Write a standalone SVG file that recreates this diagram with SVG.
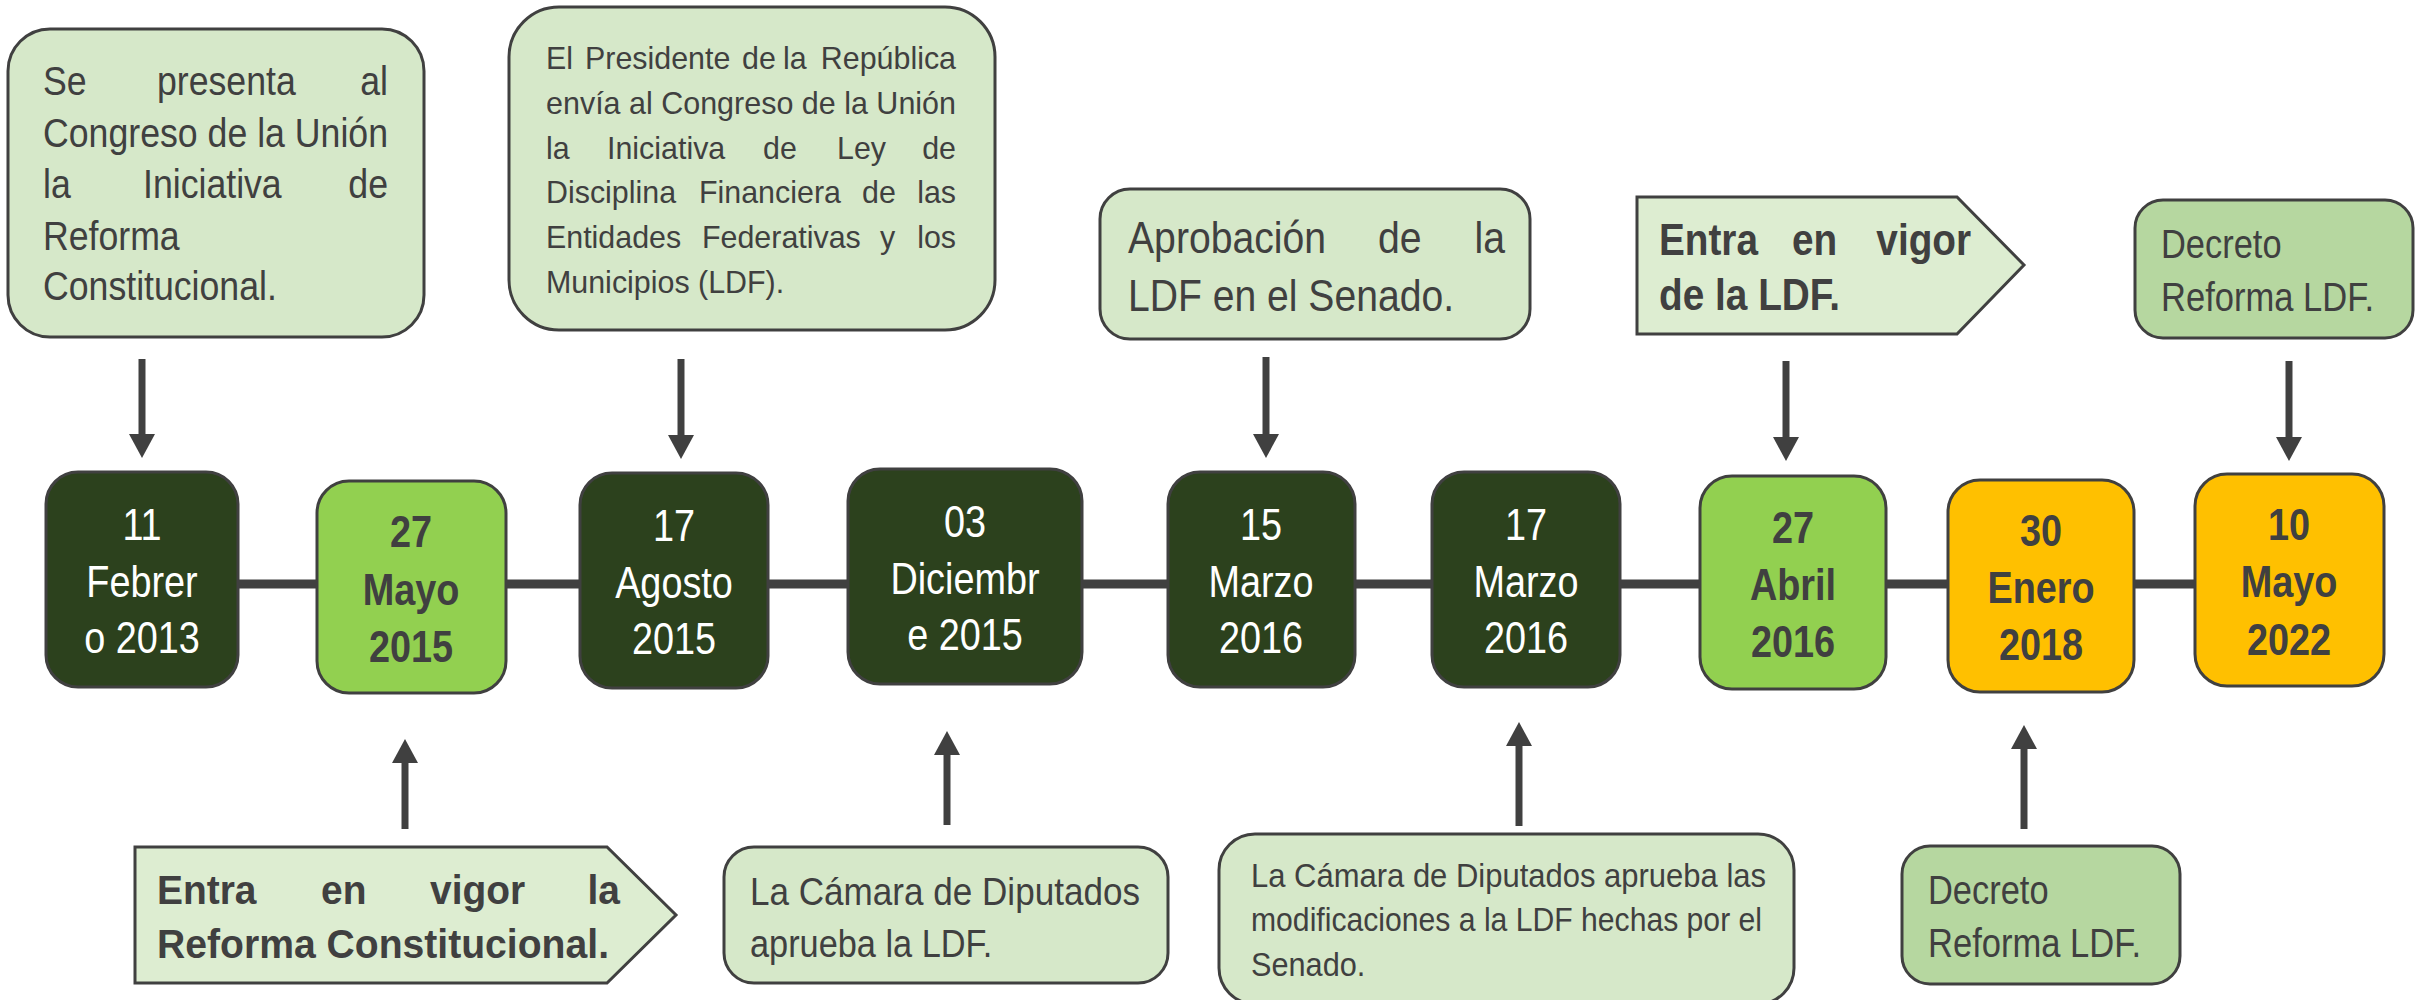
<svg xmlns="http://www.w3.org/2000/svg" width="2425" height="1000" viewBox="0 0 2425 1000">
<style>
text{font-family:"Liberation Sans",Arial,sans-serif;fill:#404040}
.bx{stroke:#404040;stroke-width:3}
.lt{fill:#D6E8C9}
.pt{fill:#DDEDD1}
.dc{fill:#B6D7A0}
.dk{fill:#2C411D}
.lg{fill:#92D050}
.yl{fill:#FFC000}
.w{fill:#FFFFFF}
.b{font-weight:bold}
.d text{font-size:44px;text-anchor:middle}
.e{text-anchor:end}
.conn line{stroke:#404040;stroke-width:7}
</style>
<defs>
<marker id="ah" markerUnits="userSpaceOnUse" markerWidth="26" markerHeight="26" refX="1" refY="13" orient="auto">
<path d="M0,0 L24,13 L0,26 Z" fill="#404040"/>
</marker>
</defs>

<g id="connectors" class="conn">
<line x1="238" y1="584" x2="2195" y2="584" style="stroke-width:9"/>
<line x1="142" y1="359" x2="142" y2="435" marker-end="url(#ah)"/>
<line x1="681" y1="359" x2="681" y2="436" marker-end="url(#ah)"/>
<line x1="1266" y1="357" x2="1266" y2="435" marker-end="url(#ah)"/>
<line x1="1786" y1="361" x2="1786" y2="438" marker-end="url(#ah)"/>
<line x1="2289" y1="361" x2="2289" y2="438" marker-end="url(#ah)"/>
<line x1="405" y1="829" x2="405" y2="762" marker-end="url(#ah)"/>
<line x1="947" y1="825" x2="947" y2="754" marker-end="url(#ah)"/>
<line x1="1519" y1="826" x2="1519" y2="745" marker-end="url(#ah)"/>
<line x1="2024" y1="829" x2="2024" y2="748" marker-end="url(#ah)"/>
</g>

<g id="n-top1" style="font-size:41px">
<rect class="bx lt" x="8" y="29" width="416" height="308" rx="42"/>
<text transform="translate(43 95) scale(0.87 1)">Se</text>
<text transform="translate(157 95) scale(0.87 1)">presenta</text>
<text class="e" transform="translate(388 95) scale(0.87 1)">al</text>
<text x="43" y="147" textLength="345" lengthAdjust="spacingAndGlyphs">Congreso de la Unión</text>
<text transform="translate(43 198) scale(0.87 1)">la</text>
<text transform="translate(143 198) scale(0.87 1)">Iniciativa</text>
<text class="e" transform="translate(388 198) scale(0.87 1)">de</text>
<text transform="translate(43 250) scale(0.87 1)">Reforma</text>
<text transform="translate(43 300) scale(0.87 1)">Constitucional.</text>
</g>

<g id="n-top2" style="font-size:32px">
<rect class="bx lt" x="509" y="7" width="486" height="323" rx="50"/>
<text transform="translate(546 69) scale(0.95 1)">El</text>
<text transform="translate(585 69) scale(0.95 1)">Presidente</text>
<text transform="translate(742 69) scale(0.95 1)">de</text>
<text transform="translate(783 69) scale(0.95 1)">la</text>
<text class="e" transform="translate(956 69) scale(0.95 1)">República</text>
<text x="546" y="114" textLength="410" lengthAdjust="spacingAndGlyphs">envía al Congreso de la Unión</text>
<text transform="translate(546 159) scale(0.95 1)">la</text>
<text transform="translate(607 159) scale(0.95 1)">Iniciativa</text>
<text transform="translate(763 159) scale(0.95 1)">de</text>
<text transform="translate(837 159) scale(0.95 1)">Ley</text>
<text class="e" transform="translate(956 159) scale(0.95 1)">de</text>
<text transform="translate(546 203) scale(0.95 1)">Disciplina</text>
<text transform="translate(699 203) scale(0.95 1)">Financiera</text>
<text transform="translate(862 203) scale(0.95 1)">de</text>
<text class="e" transform="translate(956 203) scale(0.95 1)">las</text>
<text transform="translate(546 248) scale(0.95 1)">Entidades</text>
<text transform="translate(702 248) scale(0.95 1)">Federativas</text>
<text transform="translate(880 248) scale(0.95 1)">y</text>
<text class="e" transform="translate(956 248) scale(0.95 1)">los</text>
<text transform="translate(546 293) scale(0.95 1)">Municipios (LDF).</text>
</g>

<g id="n-top3" style="font-size:44px">
<rect class="bx lt" x="1100" y="189" width="430" height="150" rx="30"/>
<text transform="translate(1128 253) scale(0.89 1)">Aprobación</text>
<text transform="translate(1378 253) scale(0.89 1)">de</text>
<text class="e" transform="translate(1505 253) scale(0.89 1)">la</text>
<text x="1128" y="311" textLength="326" lengthAdjust="spacingAndGlyphs">LDF en el Senado.</text>
</g>

<g id="n-top4" style="font-size:44px">
<path class="bx pt" d="M1637,197 L1957,197 L2024,265 L1957,334 L1637,334 Z"/>
<text class="b" transform="translate(1659 255) scale(0.88 1)">Entra</text>
<text class="b" transform="translate(1792 255) scale(0.88 1)">en</text>
<text class="b e" transform="translate(1971 255) scale(0.88 1)">vigor</text>
<text class="b" x="1659" y="310" textLength="181" lengthAdjust="spacingAndGlyphs">de la LDF.</text>
</g>

<g id="n-top5" style="font-size:41px">
<rect class="bx dc" x="2135" y="200" width="278" height="138" rx="28"/>
<text transform="translate(2161 258) scale(0.84 1)">Decreto</text>
<text x="2161" y="311" textLength="213" lengthAdjust="spacingAndGlyphs">Reforma LDF.</text>
</g>

<g id="d1" class="d">
<rect class="bx dk" x="46" y="472" width="192" height="215" rx="32"/>
<text class="w" transform="translate(142 540) scale(0.86 1)">11</text>
<text class="w" transform="translate(142 597) scale(0.86 1)">Febrer</text>
<text class="w" transform="translate(142 653) scale(0.86 1)">o 2013</text>
</g>
<g id="d2" class="d">
<rect class="bx lg" x="317" y="481" width="189" height="212" rx="32"/>
<text class="b" transform="translate(411 547) scale(0.86 1)">27</text>
<text class="b" transform="translate(411 605) scale(0.86 1)">Mayo</text>
<text class="b" transform="translate(411 662) scale(0.86 1)">2015</text>
</g>
<g id="d3" class="d">
<rect class="bx dk" x="580" y="473" width="188" height="215" rx="32"/>
<text class="w" transform="translate(674 541) scale(0.86 1)">17</text>
<text class="w" transform="translate(674 598) scale(0.86 1)">Agosto</text>
<text class="w" transform="translate(674 654) scale(0.86 1)">2015</text>
</g>
<g id="d4" class="d">
<rect class="bx dk" x="848" y="469" width="234" height="215" rx="32"/>
<text class="w" transform="translate(965 537) scale(0.86 1)">03</text>
<text class="w" transform="translate(965 594) scale(0.86 1)">Diciembr</text>
<text class="w" transform="translate(965 650) scale(0.86 1)">e 2015</text>
</g>
<g id="d5" class="d">
<rect class="bx dk" x="1168" y="472" width="187" height="215" rx="32"/>
<text class="w" transform="translate(1261 540) scale(0.86 1)">15</text>
<text class="w" transform="translate(1261 597) scale(0.86 1)">Marzo</text>
<text class="w" transform="translate(1261 653) scale(0.86 1)">2016</text>
</g>
<g id="d6" class="d">
<rect class="bx dk" x="1432" y="472" width="188" height="215" rx="32"/>
<text class="w" transform="translate(1526 540) scale(0.86 1)">17</text>
<text class="w" transform="translate(1526 597) scale(0.86 1)">Marzo</text>
<text class="w" transform="translate(1526 653) scale(0.86 1)">2016</text>
</g>
<g id="d7" class="d">
<rect class="bx lg" x="1700" y="476" width="186" height="213" rx="32"/>
<text class="b" transform="translate(1793 543) scale(0.86 1)">27</text>
<text class="b" transform="translate(1793 600) scale(0.86 1)">Abril</text>
<text class="b" transform="translate(1793 657) scale(0.86 1)">2016</text>
</g>
<g id="d8" class="d">
<rect class="bx yl" x="1948" y="480" width="186" height="212" rx="32"/>
<text class="b" transform="translate(2041 546) scale(0.86 1)">30</text>
<text class="b" transform="translate(2041 603) scale(0.86 1)">Enero</text>
<text class="b" transform="translate(2041 660) scale(0.86 1)">2018</text>
</g>
<g id="d9" class="d">
<rect class="bx yl" x="2195" y="474" width="189" height="212" rx="32"/>
<text class="b" transform="translate(2289 540) scale(0.86 1)">10</text>
<text class="b" transform="translate(2289 597) scale(0.86 1)">Mayo</text>
<text class="b" transform="translate(2289 655) scale(0.86 1)">2022</text>
</g>

<g id="n-bot1" style="font-size:41px">
<path class="bx pt" d="M135,847 L607,847 L676,915 L607,983 L135,983 Z"/>
<text class="b" transform="translate(157 904) scale(0.95 1)">Entra</text>
<text class="b" transform="translate(321 904) scale(0.95 1)">en</text>
<text class="b" transform="translate(430 904) scale(0.95 1)">vigor</text>
<text class="b e" transform="translate(620 904) scale(0.95 1)">la</text>
<text class="b" x="157" y="958" textLength="452" lengthAdjust="spacingAndGlyphs">Reforma Constitucional.</text>
</g>

<g id="n-bot2" style="font-size:39px">
<rect class="bx lt" x="724" y="847" width="444" height="136" rx="30"/>
<text x="750" y="905" textLength="390" lengthAdjust="spacingAndGlyphs">La Cámara de Diputados</text>
<text transform="translate(750 957) scale(0.88 1)">aprueba la LDF.</text>
</g>

<g id="n-bot3" style="font-size:33px">
<rect class="bx lt" x="1219" y="834" width="575" height="170" rx="36"/>
<text x="1251" y="887" textLength="515" lengthAdjust="spacingAndGlyphs">La Cámara de Diputados aprueba las</text>
<text x="1251" y="931" textLength="511" lengthAdjust="spacingAndGlyphs">modificaciones a la LDF hechas por el</text>
<text transform="translate(1251 976) scale(0.93 1)">Senado.</text>
</g>

<g id="n-bot4" style="font-size:41px">
<rect class="bx dc" x="1902" y="846" width="278" height="138" rx="28"/>
<text transform="translate(1928 904) scale(0.84 1)">Decreto</text>
<text x="1928" y="957" textLength="213" lengthAdjust="spacingAndGlyphs">Reforma LDF.</text>
</g>
</svg>
